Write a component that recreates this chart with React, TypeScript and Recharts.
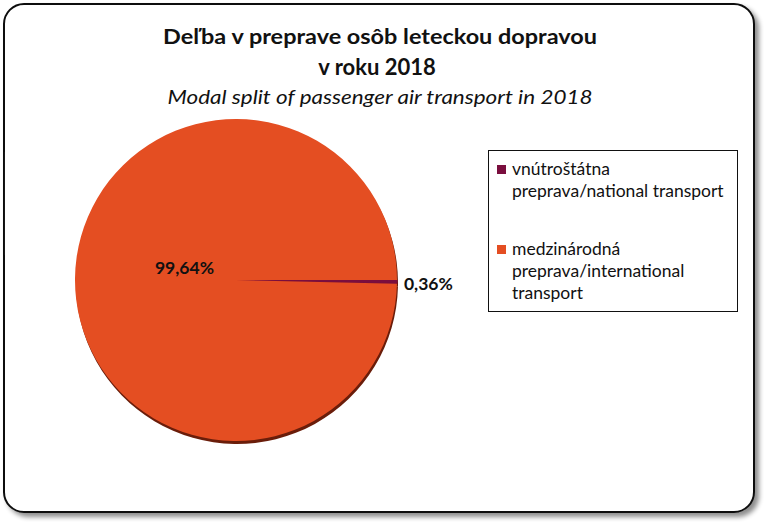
import React from 'react';
import { PieChart, Pie, Cell, Legend } from 'recharts';

const categories = ['vnútroštátna preprava/national transport', 'medzinárodná preprava/international transport'];
const shares = [0.36, 99.64];
const shareLabels = ['0,36%', '99,64%'];
const legendLines = [
  ['vnútroštátna', 'preprava/national transport'],
  ['medzinárodná', 'preprava/international', 'transport'],
];
const colors = ['#7A0E3E', '#E44E22'];
const titleLines = ['Deľba v preprave osôb leteckou dopravou', 'v roku 2018'];
const subtitle = 'Modal split of passenger air transport in 2018';

const data = categories.map((name, i) => ({ name, value: shares[i], label: shareLabels[i] }));

const FONT = 'Lato, "Open Sans", sans-serif';
const RAD = Math.PI / 180;

const renderLabel = (props: any) => {
  const { cx, cy, midAngle, outerRadius, index } = props;
  const item = data[index];
  let x: number;
  let y: number;
  if (index === 0) {
    const r = outerRadius * 1.195;
    x = cx + r * Math.cos(-midAngle * RAD);
    y = cy + r * Math.sin(-midAngle * RAD) + 1;
  } else {
    const r = outerRadius * 0.32;
    x = cx + r * Math.cos(-midAngle * RAD);
    y = cy + r * Math.sin(-midAngle * RAD) - 12;
  }
  return (
    <text x={x} y={y} textAnchor="middle" dominantBaseline="central" fontFamily={FONT} fontWeight={700} fontSize={17.5} fill="#111">
      {item.label}
    </text>
  );
};

const renderLegend = () => (
  <div
    style={{
      border: '1.5px solid #111',
      width: 250,
      height: 162,
      boxSizing: 'border-box',
      fontFamily: FONT,
      fontSize: 17.5,
      color: '#111',
      paddingTop: 7,
      paddingLeft: 8,
    }}
  >
    {legendLines.map((lines, i) => (
      <div key={i} style={{ display: 'flex', alignItems: 'flex-start', marginBottom: i === 0 ? 36 : 0 }}>
        <div
          style={{
            width: 9,
            height: 9,
            marginTop: 7,
            marginRight: 6,
            background: colors[i],
            flex: 'none',
          }}
        />
        <div style={{ lineHeight: '22px' }}>
          {lines.map((l, j) => (
            <div key={j}>{l}</div>
          ))}
        </div>
      </div>
    ))}
  </div>
);

export default function App() {
  return (
    <div style={{ position: 'absolute', left: 0, top: 0, width: 767, height: 525, background: '#fff' }}>
      <svg width={767} height={525} style={{ position: 'absolute', left: 0, top: 0 }}>
        <defs>
          <filter id="sh" x="-5%" y="-5%" width="115%" height="115%">
            <feGaussianBlur in="SourceAlpha" stdDeviation="2.5" />
            <feOffset dx="4" dy="4" result="b" />
            <feComponentTransfer>
              <feFuncA type="linear" slope="0.45" />
            </feComponentTransfer>
            <feMerge>
              <feMergeNode />
              <feMergeNode in="SourceGraphic" />
            </feMerge>
          </filter>
        </defs>
        <rect x={4} y={4} width={750} height={508} rx={20} ry={20} fill="#fff" stroke="#111" strokeWidth={2} filter="url(#sh)" />
        <text x={380} y={44} textAnchor="middle" fontFamily={FONT} fontWeight={700} fontSize={21} fill="#111" textLength={434} lengthAdjust="spacingAndGlyphs">
          {titleLines[0]}
        </text>
        <text x={377} y={75} textAnchor="middle" fontFamily={FONT} fontWeight={700} fontSize={22} fill="#111">
          {titleLines[1]}
        </text>
        <text x={380} y={104} textAnchor="middle" fontFamily={FONT} fontStyle="italic" fontSize={20} fill="#111" textLength={425} lengthAdjust="spacingAndGlyphs">
          {subtitle}
        </text>
      </svg>
      <div style={{ position: 'absolute', left: 0, top: 0 }}>
        <PieChart width={767} height={525} margin={{ top: 0, right: 0, bottom: 0, left: 0 }}>
          <Pie
            data={data}
            dataKey="value"
            nameKey="name"
            cx={237}
            cy={283}
            outerRadius={161}
            startAngle={0}
            endAngle={-360}
            fill="#6A1D0A"
            stroke="none"
            isAnimationActive={false}
            legendType="none"
          >
            {data.map((d, i) => (
              <Cell key={i} fill="#6A1D0A" />
            ))}
          </Pie>
          <Pie
            data={data}
            dataKey="value"
            nameKey="name"
            cx={236}
            cy={280}
            outerRadius={161}
            startAngle={0}
            endAngle={-360}
            isAnimationActive={false}
            label={renderLabel}
            labelLine={false}
          >
            {data.map((d, i) => (
              <Cell key={i} fill={colors[i]} stroke={i === 0 ? colors[0] : 'none'} strokeWidth={i === 0 ? 1 : 0} />
            ))}
          </Pie>
          <Legend
            content={renderLegend}
            wrapperStyle={{ position: 'absolute', left: 488, top: 150, width: 250, height: 162 }}
          />
        </PieChart>
      </div>
    </div>
  );
}
